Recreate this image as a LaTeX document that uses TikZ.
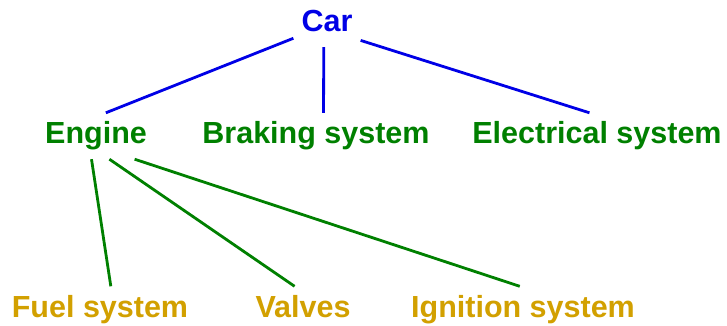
\documentclass[tikz,border=0pt]{standalone}
\usepackage{fontspec}
\setmainfont{Liberation Sans}
\definecolor{carblue}{RGB}{0,0,230}
\definecolor{partgreen}{RGB}{0,128,0}
\definecolor{subgold}{RGB}{210,160,0}
\begin{document}
\begin{tikzpicture}[x=1pt, y=-1pt,
    part/.style={anchor=base, inner sep=8pt, font=\fontsize{30.5}{36}\selectfont\bfseries, text height=22.5pt, text depth=7.5pt},
    link/.style={line width=2.8pt}]
  \useasboundingbox (0,0) rectangle (727,326);
  \node (car) [part, text=carblue] at (327, 31.5) {Car};
  \node (engine) [part, text=partgreen] at (96, 143.5) {Engine};
  \node (braking) [part, text=partgreen] at (316, 143.5) {Braking system};
  \node (electrical) [part, text=partgreen] at (597, 143.5) {Electrical system};
  \node (fuel) [part, text=subgold] at (100, 317) {Fuel system};
  \node (valves) [part, text=subgold] at (303, 317) {Valves};
  \node (ignition) [part, text=subgold] at (523, 317) {Ignition system};

  \draw[link, carblue] (car.203) to (engine.67);
  \draw[link, carblue] (car.262) to (braking.72);
  \draw[link, carblue] (car.334) to (electrical.108);
  \draw[link, partgreen] (engine.259) to (fuel.65);
  \draw[link, partgreen] (engine.300) to (valves.110);
  \draw[link, partgreen] (engine.329) to (ignition.98);
\end{tikzpicture}
\end{document}
